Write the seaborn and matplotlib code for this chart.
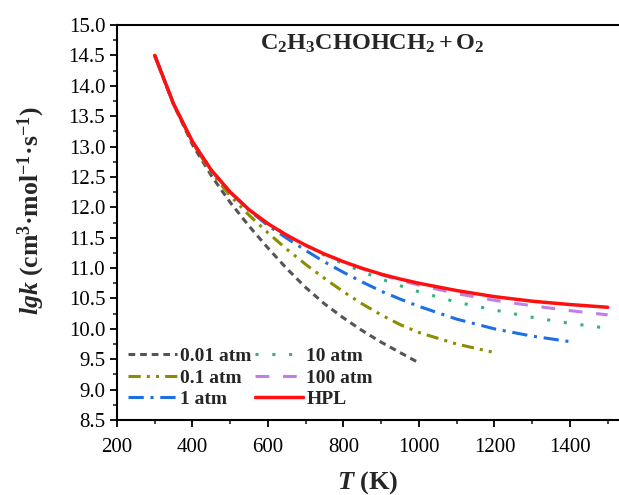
"""
Rate constants of C2H3CHOHCH2 + O2 at several pressures.
"""

import pandas as pd
import matplotlib.pyplot as plt
import seaborn as sns
from matplotlib.ticker import MultipleLocator, FormatStrFormatter


T_LOW = [300, 350, 400, 450, 500, 550, 600, 650, 700, 750, 800, 850, 900, 950, 1000]
T_MID = T_LOW + [1100, 1200]
T_HIGH = T_MID + [1300, 1400]
T_FULL = T_HIGH + [1500]

K_001 = [14.50, 13.69, 13.03, 12.52, 12.08, 11.69, 11.33, 10.99, 10.68, 10.41,
         10.18, 9.97, 9.78, 9.61, 9.44]
K_01 = [14.50, 13.70, 13.06, 12.57, 12.19, 11.87, 11.58, 11.31, 11.06, 10.83,
        10.61, 10.41, 10.23, 10.07, 9.94, 9.75, 9.61]
K_1 = [14.50, 13.70, 13.08, 12.61, 12.25, 11.95, 11.70, 11.49, 11.29, 11.10,
       10.93, 10.77, 10.62, 10.49, 10.37, 10.16, 10.00, 9.88, 9.79]
K_10 = [14.50, 13.70, 13.08, 12.61, 12.25, 11.96, 11.73, 11.54, 11.37, 11.21,
        11.07, 10.94, 10.82, 10.71, 10.61, 10.44, 10.31, 10.19, 10.09, 10.01]
K_100 = [14.50, 13.70, 13.08, 12.61, 12.25, 11.96, 11.73, 11.54, 11.375, 11.23,
         11.105, 10.99, 10.89, 10.80, 10.72, 10.58, 10.47, 10.38, 10.30, 10.23]
K_HPL = [14.50, 13.70, 13.08, 12.61, 12.25, 11.96, 11.73, 11.54, 11.375, 11.23,
         11.105, 10.995, 10.90, 10.82, 10.75, 10.63, 10.53, 10.455, 10.40, 10.355]

LABELS = ["0.01 atm", "0.1 atm", "1 atm", "10 atm", "100 atm", "HPL"]


def main():
    sns.set_theme(style="ticks")
    plt.rcParams["font.family"] = ["Liberation Serif", "DejaVu Serif"]
    plt.rcParams["mathtext.fontset"] = "custom"
    plt.rcParams["mathtext.rm"] = "Liberation Serif"
    plt.rcParams["mathtext.bf"] = "Liberation Serif:bold"
    plt.rcParams["mathtext.it"] = "Liberation Serif:italic"
    plt.rcParams["mathtext.bfit"] = "Liberation Serif:bold:italic"

    fig = plt.figure(figsize=(6.19, 4.95), dpi=100)
    ax = fig.add_axes([0.189, 0.1515, 0.811, 0.798])

    series = [
        (T_LOW, K_001, "#555555", (0, (2.2, 1.6))),
        (T_MID, K_01, "#8c8c00", (0, (4, 2, 1, 2, 1, 2))),
        (T_HIGH, K_1, "#1e6fe3", (0, (5, 2.2, 1, 2.2))),
        (T_FULL, K_10, "#34b377", (0, (1, 4.5))),
        (T_FULL, K_100, "#c07ee8", (0, (4.5, 4.5))),
        (T_FULL, K_HPL, "#ff1010", "-"),
    ]

    for i, (t, k, color, ls) in enumerate(series):
        df = pd.DataFrame({"T": t, "k": k})
        sns.lineplot(
            data=df, x="T", y="k", ax=ax,
            color=color, linestyle=ls,
            linewidth=2.5 if ls == "-" else 2.2,
            label=LABELS[i], zorder=3 + i,
        )

    ax.set_xlim(200, 1530)
    ax.set_ylim(8.5, 15.0)
    ax.xaxis.set_major_locator(MultipleLocator(200))
    ax.xaxis.set_minor_locator(MultipleLocator(100))
    ax.yaxis.set_major_locator(MultipleLocator(0.5))
    ax.yaxis.set_minor_locator(MultipleLocator(0.25))
    ax.yaxis.set_major_formatter(FormatStrFormatter("%.1f"))

    ax.tick_params(which="major", direction="out", length=5, width=1.3,
                   labelsize=15, colors="black")
    ax.tick_params(axis="x", which="major", pad=8)
    ax.tick_params(which="minor", direction="out", length=3, width=1.2)

    for side in ["left", "bottom", "top"]:
        ax.spines[side].set_linewidth(1.5)
        ax.spines[side].set_color("black")
    ax.spines["right"].set_visible(False)

    ax.set_xlabel(r"$\mathbfit{T}\ \mathbf{(K)}$", fontsize=19, labelpad=9)
    ax.set_ylabel(
        r"$\mathbfit{lgk}\ \mathbf{(cm^{3}·mol^{-1}·s^{-1})}$",
        fontsize=18.5,
    )
    ax.yaxis.set_label_coords(-0.14, 0.529)

    ax.text(877, 14.69, r"$\mathbf{C_2H_3CHOHCH_2 + O_2}$",
            fontsize=17.5, ha="center", va="center")

    ax.legend(
        ncol=2, loc="lower left", bbox_to_anchor=(0.022, 0.03),
        frameon=False, prop={"weight": "bold", "size": 14},
        handlelength=2.5, handletextpad=0.15, columnspacing=0.2,
        labelspacing=0.2, borderpad=0, borderaxespad=0,
    )

    fig.savefig("out.png", dpi=100)


if __name__ == "__main__":
    main()
